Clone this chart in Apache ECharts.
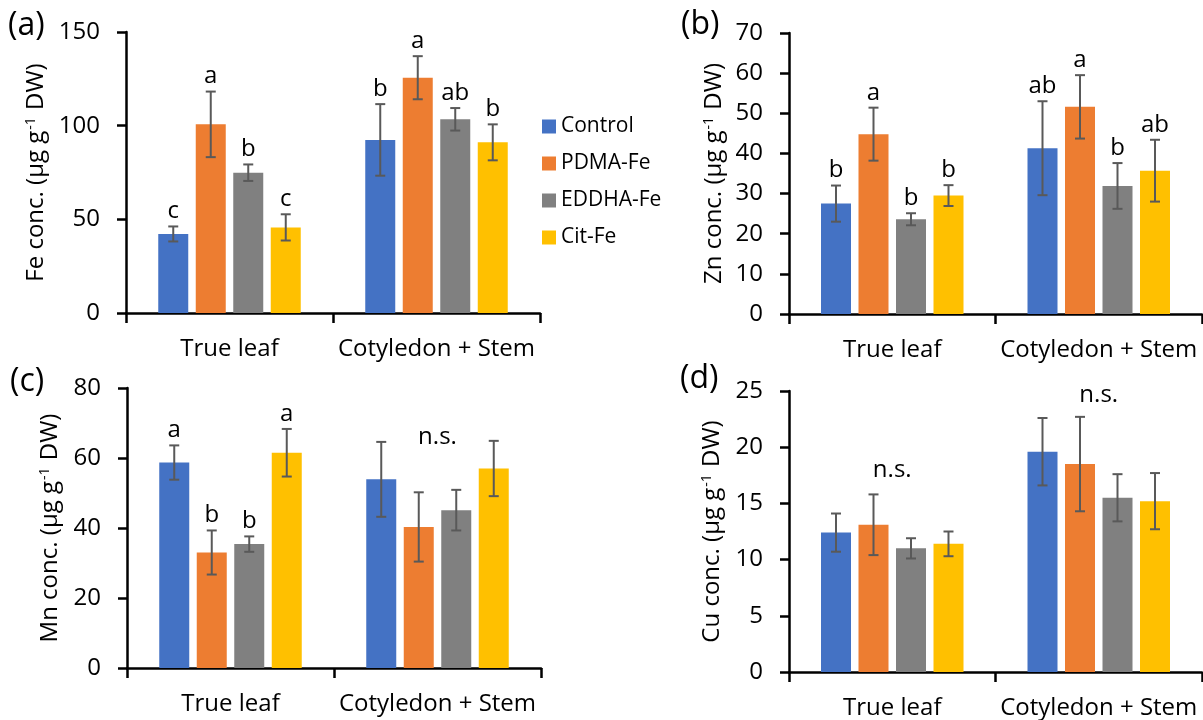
<!DOCTYPE html>
<html>
<head>
<meta charset="utf-8">
<script src="https://cdn.jsdelivr.net/npm/echarts@6/dist/echarts.min.js"></script>
<style>
html,body{margin:0;padding:0;background:#fff;}
#chart{width:1203px;height:720px;}
</style>
</head>
<body>
<div id="chart"></div>
<script>
const categories = ['True leaf', 'Cotyledon + Stem'];
const treatments = ['Control', 'PDMA-Fe', 'EDDHA-Fe', 'Cit-Fe'];
const colors = ['#4472C4', '#ED7D31', '#808080', '#FFC000'];

// values per treatment: [True leaf, Cotyledon + Stem]
const feMean = [[42.2, 92.4], [100.7, 125.6], [74.9, 103.4], [45.7, 91.1]];
const feErr = [[4.0, 19.1], [17.5, 11.5], [4.4, 6.0], [7.0, 9.6]];
const feLetters = [['c', 'b'], ['a', 'a'], ['b', 'ab'], ['c', 'b']];
const feAxis = [0, 150, 50];

const znMean = [[27.5, 41.3], [44.8, 51.6], [23.6, 31.9], [29.5, 35.7]];
const znErr = [[4.5, 11.7], [6.6, 7.9], [1.5, 5.7], [2.6, 7.7]];
const znLetters = [['b', 'ab'], ['a', 'a'], ['b', 'b'], ['b', 'ab']];
const znAxis = [0, 70, 10];

const mnMean = [[58.7, 53.9], [33.0, 40.3], [35.4, 45.1], [61.5, 57.0]];
const mnErr = [[4.9, 10.7], [6.3, 9.9], [2.2, 5.8], [6.8, 7.9]];
const mnLetters = [['a', ''], ['b', ''], ['b', ''], ['a', '']];
const mnNotes = ['', 'n.s.'];
const mnNoteAt = [null, 66];
const mnAxis = [0, 80, 20];

const cuMean = [[12.4, 19.6], [13.1, 18.5], [11.0, 15.5], [11.4, 15.2]];
const cuErr = [[1.7, 3.0], [2.7, 4.2], [0.9, 2.1], [1.1, 2.5]];
const cuLetters = [['', ''], ['', ''], ['', ''], ['', '']];
const cuNotes = ['n.s.', 'n.s.'];
const cuNoteAt = [18.0, 24.6];
const cuAxis = [0, 25, 5];

const FONT = 'Open Sans';

const panels = [
  {tag: '(a)', el: 'Fe', mean: feMean, err: feErr, letters: feLetters, notes: null, noteAt: null, axis: feAxis,
   grid: {left: 126, top: 32, width: 414, height: 281}, nameGap: 78, tagPos: [8, 32]},
  {tag: '(b)', el: 'Zn', mean: znMean, err: znErr, letters: znLetters, notes: null, noteAt: null, axis: znAxis,
   grid: {left: 789, top: 33, width: 413, height: 281}, nameGap: 63, tagPos: [681, 31]},
  {tag: '(c)', el: 'Mn', mean: mnMean, err: mnErr, letters: mnLetters, notes: mnNotes, noteAt: mnNoteAt, axis: mnAxis,
   grid: {left: 127, top: 388, width: 414, height: 280}, nameGap: 65, tagPos: [10, 388]},
  {tag: '(d)', el: 'Cu', mean: cuMean, err: cuErr, letters: cuLetters, notes: cuNotes, noteAt: cuNoteAt, axis: cuAxis,
   grid: {left: 789, top: 391, width: 413, height: 281}, nameGap: 65, tagPos: [680, 385]}
];
const BW = 30, GAP = 7.5;

const grids = [], xAxes = [], yAxes = [], series = [], graphics = [];

panels.forEach((p, pi) => {
  grids.push(Object.assign({containLabel: false}, p.grid));
  xAxes.push({
    type: 'category', gridIndex: pi, data: categories,
    axisLine: {lineStyle: {color: '#000', width: 2.5}},
    axisTick: {show: true, length: 10, lineStyle: {color: '#000', width: 2.5}},
    axisLabel: {color: '#000', fontFamily: FONT, fontSize: 24, margin: 24, interval: 0, hideOverlap: false}
  });
  yAxes.push({
    type: 'value', gridIndex: pi, min: p.axis[0], max: p.axis[1], interval: p.axis[2],
    name: '{n|' + p.el + ' conc. (µg g}{s|-1}{n| DW)}',
    nameLocation: 'middle', nameRotate: 90, nameGap: p.nameGap,
    nameTextStyle: {
      rich: {
        n: {fontFamily: FONT, fontSize: 24, color: '#000'},
        s: {fontFamily: FONT, fontSize: 14, color: '#000', verticalAlign: 'top', padding: [0, 1, 0, 1]}
      }
    },
    axisLine: {show: true, lineStyle: {color: '#000', width: 2.5}},
    axisTick: {show: true, length: 9, lineStyle: {color: '#000', width: 2.5}},
    axisLabel: {color: '#000', fontFamily: FONT, fontSize: 24, margin: 26},
    splitLine: {show: false}
  });
  const gapPct = (GAP / BW * 100) + '%';
  treatments.forEach((t, ti) => {
    series.push({
      type: 'bar', name: t, xAxisIndex: pi, yAxisIndex: pi,
      data: p.mean[ti], barWidth: BW, barGap: gapPct,
      itemStyle: {color: colors[ti]}, animation: false
    });
  });
  treatments.forEach((t, ti) => {
    const offset = (ti - 1.5) * (BW + GAP);
    series.push({
      type: 'custom', xAxisIndex: pi, yAxisIndex: pi, animation: false, z: 5,
      data: p.mean[ti].map((m, ci) => [ci, m, p.err[ti][ci]]),
      encode: {x: 0, y: 1},
      renderItem: function (params, api) {
        const ci = api.value(0), m = api.value(1), e = api.value(2);
        const top = api.coord([ci, m + e]);
        const bot = api.coord([ci, m - e]);
        const x = top[0] + offset;
        const cap = 5;
        const st = {stroke: '#595959', lineWidth: 2};
        const children = [
          {type: 'line', shape: {x1: x, y1: top[1], x2: x, y2: bot[1]}, style: st},
          {type: 'line', shape: {x1: x - cap, y1: top[1], x2: x + cap, y2: top[1]}, style: st},
          {type: 'line', shape: {x1: x - cap, y1: bot[1], x2: x + cap, y2: bot[1]}, style: st}
        ];
        const letter = p.letters[ti][params.dataIndex];
        if (letter) {
          children.push({type: 'text', style: {text: letter, x: x, y: top[1] - 3, align: 'center', verticalAlign: 'bottom',
            fontFamily: FONT, fontSize: 24, fill: '#000'}});
        }
        return {type: 'group', children: children};
      }
    });
  });
  if (p.notes) {
    series.push({
      type: 'custom', xAxisIndex: pi, yAxisIndex: pi, animation: false, z: 6,
      data: p.notes.map((n, ci) => [ci, p.noteAt[ci] == null ? 0 : p.noteAt[ci]]),
      encode: {x: 0, y: 1},
      renderItem: function (params, api) {
        const txt = p.notes[params.dataIndex];
        if (!txt) return {type: 'group', children: []};
        const c = api.coord([api.value(0), api.value(1)]);
        return {type: 'text', style: {text: txt, x: c[0], y: c[1], align: 'center', verticalAlign: 'middle',
          fontFamily: FONT, fontSize: 24, fill: '#000'}};
      }
    });
  }
  graphics.push({type: 'text', left: p.tagPos[0], top: p.tagPos[1] - 22,
    style: {text: p.tag, fontFamily: FONT, fontSize: 32, fill: '#000'}});
});

const chart = echarts.init(document.getElementById('chart'), null, {renderer: 'canvas'});
chart.setOption({
  backgroundColor: '#fff',
  animation: false,
  grid: grids, xAxis: xAxes, yAxis: yAxes, series: series, graphic: graphics,
  legend: {
    data: treatments.map(t => ({name: t, icon: 'rect'})),
    orient: 'vertical', left: 542, top: 116, padding: 0,
    itemWidth: 14, itemHeight: 14, itemGap: 16,
    textStyle: {fontFamily: FONT, fontSize: 21, color: '#000'}
  }
});
</script>
</body>
</html>
